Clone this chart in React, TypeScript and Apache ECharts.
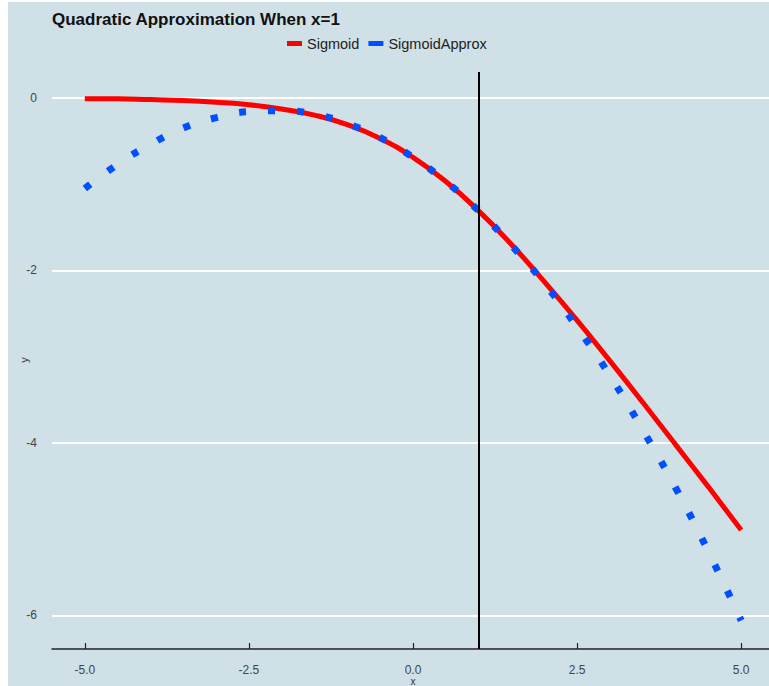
import React, { useEffect, useRef } from "react";
import * as echarts from "echarts";

const xValues = [-5, -4.5, -4, -3.5, -3, -2.5, -2, -1.5, -1, -0.5, 0, 0.5, 1, 1.5, 2, 2.5, 3, 3.5, 4, 4.5, 5];
const sigmoidValues = [-0.01, -0.01, -0.02, -0.03, -0.05, -0.08, -0.13, -0.2, -0.31, -0.47, -0.69, -0.97, -1.31, -1.7, -2.13, -2.58, -3.05, -3.53, -4.02, -4.51, -5.01];
const approxValues = [-1.05, -0.77, -0.54, -0.35, -0.23, -0.16, -0.15, -0.19, -0.3, -0.46, -0.69, -0.97, -1.31, -1.71, -2.15, -2.66, -3.22, -3.85, -4.52, -5.26, -6.06];
const xTicks = [-5, -2.5, 0, 2.5, 5];
const yTicks = [0, -2, -4, -6];
const markX = 1;

const FONT = "'Liberation Sans', Arial, Helvetica, sans-serif";

export default function App() {
  const ref = useRef<HTMLDivElement>(null);
  useEffect(() => {
    if (!ref.current) return;
    const chart = echarts.init(ref.current, null, { renderer: "svg" });
    chart.setOption({
      animation: false,
      backgroundColor: "#cfe0e6",
      textStyle: { fontFamily: FONT },
      title: {
        text: "Quadratic Approximation When x=1",
        left: 44,
        top: 9,
        padding: 0,
        textStyle: { fontFamily: FONT, fontSize: 17, fontWeight: "bold", color: "#111" },
      },
      legend: {
        data: ["Sigmoid", "SigmoidApprox"],
        left: 279,
        top: 34,
        padding: 0,
        icon: "rect",
        itemWidth: 15,
        itemHeight: 5,
        itemGap: 9,
        textStyle: { fontFamily: FONT, fontSize: 14.5, color: "#222" },
      },
      graphic: [
        {
          type: "text",
          x: 16,
          y: 358,
          rotation: Math.PI / 2,
          style: { text: "y", font: "11px 'Liberation Sans', Arial, sans-serif", fill: "#333", align: "center", verticalAlign: "middle" },
        },
        {
          type: "text",
          x: 405,
          y: 679,
          style: { text: "x", font: "10px 'Liberation Sans', Arial, sans-serif", fill: "#333", align: "center", verticalAlign: "middle" },
        },
      ],
      grid: { left: 44, right: -5, top: 70, bottom: 37, containLabel: false, outerBoundsMode: "none" },
      xAxis: {
        type: "value",
        min: -5.5,
        max: 5.5,
        axisLine: { show: true, onZero: false, lineStyle: { color: "#222", width: 1.5 } },
        axisTick: { show: true, inside: true, length: 6, customValues: xTicks, lineStyle: { color: "#222", width: 1.2 } },
        axisLabel: {
          customValues: xTicks,
          margin: 15,
          fontFamily: FONT,
          fontSize: 12,
          color: "#444",
          formatter: (v: number) => v.toFixed(1),
        },
        splitLine: { show: false },
      },
      yAxis: {
        type: "value",
        min: -6.39,
        max: 0.3,
        axisLine: { show: false },
        axisTick: { show: false },
        axisLabel: {
          customValues: yTicks,
          margin: 15,
          fontFamily: FONT,
          fontSize: 12,
          color: "#444",
          formatter: (v: number) => String(v),
        },
        splitLine: { show: false },
      },
      series: [
        {
          name: "gridlines",
          type: "line",
          data: [],
          z: 0,
          silent: true,
          markLine: {
            silent: true,
            z: 0,
            symbol: "none",
            label: { show: false },
            lineStyle: { color: "#ffffff", width: 2, type: "solid" },
            data: yTicks.map((v) => ({ yAxis: v })),
          },
        },
        {
          name: "Sigmoid",
          type: "line",
          data: xValues.map((x, i) => [x, sigmoidValues[i]]),
          smooth: true,
          showSymbol: false,
          symbol: "none",
          itemStyle: { color: "#ff0000" },
          lineStyle: { color: "#ff0000", width: 5 },
          z: 2,
        },
        {
          name: "SigmoidApprox",
          type: "line",
          data: xValues.map((x, i) => [x, approxValues[i]]),
          smooth: true,
          showSymbol: false,
          symbol: "none",
          itemStyle: { color: "#0050ff" },
          lineStyle: { color: "#0050ff", width: 7, type: [7, 22], cap: "butt" },
          z: 3,
        },
        {
          name: "vline",
          type: "line",
          data: [],
          z: 4,
          silent: true,
          markLine: {
            silent: true,
            z: 5,
            symbol: "none",
            label: { show: false },
            lineStyle: { color: "#000000", width: 2, type: "solid" },
            data: [{ xAxis: markX }],
          },
        },
      ],
    });
    return () => chart.dispose();
  }, []);
  return (
    <div
      ref={ref}
      style={{ position: "absolute", left: 8, top: 2, width: 761, height: 684 }}
    />
  );
}
